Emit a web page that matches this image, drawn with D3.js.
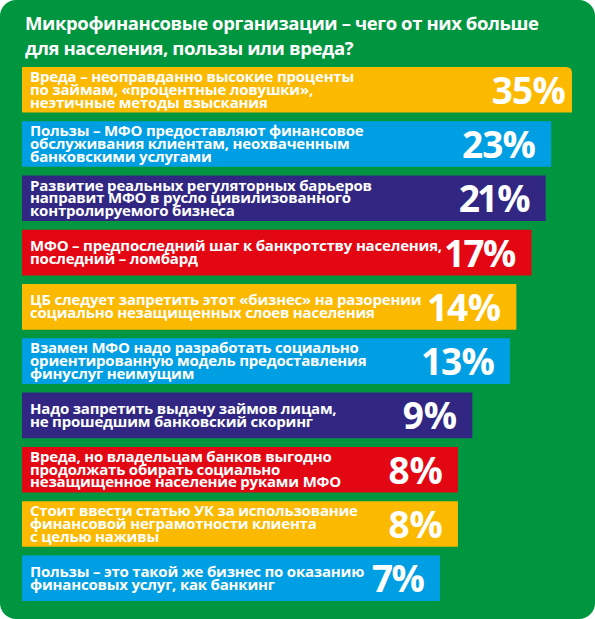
<!DOCTYPE html>
<html lang="ru">
<head>
<meta charset="UTF-8">
<title>Микрофинансовые организации</title>
<script src="https://d3js.org/d3.v7.min.js"></script>
<style>
    body { margin: 0; background: #fff; }
    .title { fill: #fff; font-family: "Open Sans", sans-serif; font-weight: 700; font-size: 18.5px; letter-spacing: -0.4px; }
    .label { fill: #fff; font-family: "Open Sans", sans-serif; font-weight: 700; font-size: 15px; letter-spacing: -0.2px; }
    .pct { fill: #fff; font-family: "Open Sans", sans-serif; font-weight: 700; font-size: 37px; text-anchor: end; letter-spacing: -0.8px; font-variant-numeric: proportional-nums; }
</style>
</head>
<body>
<svg width="595" height="619"></svg>
<script>
// chart data
const titleLines = ["Микрофинансовые организации – чего от них больше", "для населения, пользы или вреда?"];
const labels = [
    ["Вреда – неоправданно высокие проценты", "по займам, «процентные ловушки»,", "неэтичные методы взыскания"],
    ["Пользы – МФО предоставляют финансовое", "обслуживания клиентам, неохваченным", "банковскими услугами"],
    ["Развитие реальных регуляторных барьеров", "направит МФО в русло цивилизованного", "контролируемого бизнеса"],
    ["МФО – предпоследний шаг к банкротству населения,", "последний – ломбард"],
    ["ЦБ следует запретить этот «бизнес» на разорении", "социально незащищенных слоев населения"],
    ["Взамен МФО надо разработать социально", "ориентированную модель предоставления", "финуслуг неимущим"],
    ["Надо запретить выдачу займов лицам,", "не прошедшим банковский скоринг"],
    ["Вреда, но владельцам банков выгодно", "продолжать обирать социально", "незащищенное население руками МФО"],
    ["Стоит ввести статью УК за использование", "финансовой неграмотности клиента", "с целью наживы"],
    ["Пользы – это такой же бизнес по оказанию", "финансовых услуг, как банкинг"]
];
const values = [35, 23, 21, 17, 14, 13, 9, 8, 8, 7];
const colors = ["#fbb900", "#009fe3", "#312783", "#e30613", "#fbb900", "#009fe3", "#312783", "#e30613", "#fbb900", "#009fe3"];

const W = 595, H = 619, left = 22;
const svg = d3.select("svg");

// green panel
svg.append("rect")
    .attr("width", W).attr("height", H)
    .attr("rx", 16).attr("ry", 16)
    .attr("fill", "#009640");

svg.append("text")
    .attr("class", "title")
    .selectAll("tspan")
    .data(titleLines)
    .join("tspan")
    .attr("x", 25)
    .attr("y", (d, i) => 30 + i * 25)
    .text(d => d);

const idx = d3.range(values.length);

const y = d3.scaleBand()
    .domain(idx)
    .range([67, 601])
    .paddingInner(0.16);

// bar ends are compressed in the original, a negative power fits them well
const x = d3.scalePow()
    .exponent(-0.75)
    .domain([7, 35])
    .range([440, 572]);

const rows = svg.selectAll("g.row")
    .data(idx)
    .join("g")
    .attr("class", "row")
    .attr("transform", i => `translate(0,${y(i)})`);

rows.append("path")
    .attr("fill", i => colors[i])
    .attr("d", i => {
        const w = x(values[i]) - left, h = y.bandwidth();
        const r = i === 0 ? 6 : 0;
        return `M${left},0H${left + w - r}Q${left + w},0 ${left + w},${r}V${h}H${left}Z`;
    });

rows.append("text")
    .attr("class", "label")
    .selectAll("tspan")
    .data(i => labels[i].map((t, k) => ({t, k, n: labels[i].length})))
    .join("tspan")
    .attr("x", 30)
    .attr("y", d => y.bandwidth() / 2 + 5 + (d.k - (d.n - 1) / 2) * 12.8)
    .text(d => d.t);

rows.append("text")
    .attr("class", "pct")
    .attr("x", i => x(values[i]) - (i === 0 ? 7 : 16))
    .attr("y", y.bandwidth() / 2 + 14)
    .text(i => values[i] + "%");
</script>
</body>
</html>
